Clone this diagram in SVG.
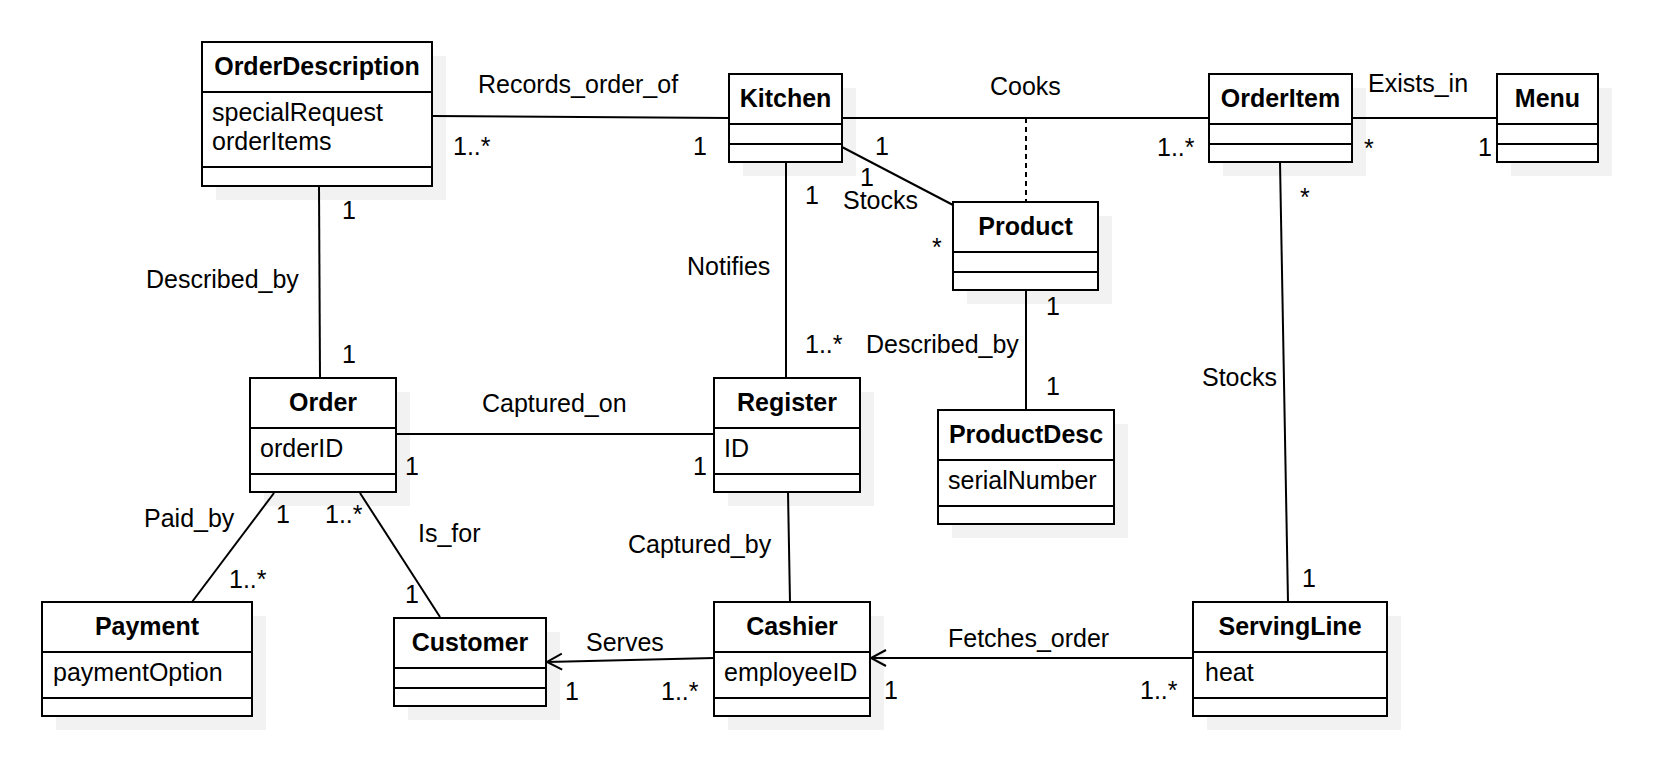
<svg xmlns="http://www.w3.org/2000/svg" width="1656" height="774" viewBox="0 0 1656 774">
<defs>
<style>
.bg{fill:#ffffff}
.sh{fill:#f2f2f2;stroke:none}
.box{fill:#ffffff;stroke:#000000;stroke-width:2}
.dv{stroke:#000000;stroke-width:2}
.ttl{font-family:"Liberation Sans",Arial,sans-serif;font-size:25px;font-weight:bold;fill:#000;text-anchor:middle}
.att{font-family:"Liberation Sans",Arial,sans-serif;font-size:25px;fill:#000}
.lbl{font-family:"Liberation Sans",Arial,sans-serif;font-size:25px;fill:#000}
.ln{fill:none;stroke:#000000;stroke-width:2}
.dash{fill:none;stroke:#000000;stroke-width:2;stroke-dasharray:5 4}
</style>
<marker id="open" markerUnits="userSpaceOnUse" viewBox="0 0 20 20" markerWidth="20" markerHeight="20" refX="17" refY="10" orient="auto">
<path d="M2,2 L17,10 L2,18" fill="none" stroke="#000" stroke-width="2"/>
</marker>
</defs>
<rect class="bg" x="0" y="0" width="1656" height="774"/>

<g id="OrderDescription">
<rect class="sh" x="216" y="56" width="230" height="144"/>
<rect class="box" x="202" y="42" width="230" height="144"/>
<line class="dv" x1="202" y1="92" x2="432" y2="92"/>
<line class="dv" x1="202" y1="167" x2="432" y2="167"/>
<text class="ttl" x="317" y="75">OrderDescription</text>
<text class="att" x="212" y="121">specialRequest</text>
<text class="att" x="212" y="150">orderItems</text>
</g>

<g id="Kitchen">
<rect class="sh" x="743" y="88" width="113" height="88"/>
<rect class="box" x="729" y="74" width="113" height="88"/>
<line class="dv" x1="729" y1="124" x2="842" y2="124"/>
<line class="dv" x1="729" y1="144" x2="842" y2="144"/>
<text class="ttl" x="785.5" y="107">Kitchen</text>
</g>

<g id="OrderItem">
<rect class="sh" x="1223" y="88" width="143" height="88"/>
<rect class="box" x="1209" y="74" width="143" height="88"/>
<line class="dv" x1="1209" y1="124" x2="1352" y2="124"/>
<line class="dv" x1="1209" y1="144" x2="1352" y2="144"/>
<text class="ttl" x="1280.5" y="107">OrderItem</text>
</g>

<g id="Menu">
<rect class="sh" x="1511" y="88" width="101" height="88"/>
<rect class="box" x="1497" y="74" width="101" height="88"/>
<line class="dv" x1="1497" y1="124" x2="1598" y2="124"/>
<line class="dv" x1="1497" y1="144" x2="1598" y2="144"/>
<text class="ttl" x="1547.5" y="107">Menu</text>
</g>

<g id="Product">
<rect class="sh" x="967" y="216" width="145" height="88"/>
<rect class="box" x="953" y="202" width="145" height="88"/>
<line class="dv" x1="953" y1="252" x2="1098" y2="252"/>
<line class="dv" x1="953" y1="272" x2="1098" y2="272"/>
<text class="ttl" x="1025.5" y="235">Product</text>
</g>

<g id="Order">
<rect class="sh" x="264" y="392" width="146" height="114"/>
<rect class="box" x="250" y="378" width="146" height="114"/>
<line class="dv" x1="250" y1="428" x2="396" y2="428"/>
<line class="dv" x1="250" y1="474" x2="396" y2="474"/>
<text class="ttl" x="323" y="411">Order</text>
<text class="att" x="260" y="457">orderID</text>
</g>

<g id="Register">
<rect class="sh" x="728" y="392" width="146" height="114"/>
<rect class="box" x="714" y="378" width="146" height="114"/>
<line class="dv" x1="714" y1="428" x2="860" y2="428"/>
<line class="dv" x1="714" y1="474" x2="860" y2="474"/>
<text class="ttl" x="787" y="411">Register</text>
<text class="att" x="724" y="457">ID</text>
</g>

<g id="ProductDesc">
<rect class="sh" x="952" y="424" width="176" height="114"/>
<rect class="box" x="938" y="410" width="176" height="114"/>
<line class="dv" x1="938" y1="460" x2="1114" y2="460"/>
<line class="dv" x1="938" y1="506" x2="1114" y2="506"/>
<text class="ttl" x="1026" y="443">ProductDesc</text>
<text class="att" x="948" y="489">serialNumber</text>
</g>

<g id="Payment">
<rect class="sh" x="56" y="616" width="210" height="114"/>
<rect class="box" x="42" y="602" width="210" height="114"/>
<line class="dv" x1="42" y1="652" x2="252" y2="652"/>
<line class="dv" x1="42" y1="698" x2="252" y2="698"/>
<text class="ttl" x="147" y="635">Payment</text>
<text class="att" x="53" y="681">paymentOption</text>
</g>

<g id="Customer">
<rect class="sh" x="408" y="632" width="152" height="88"/>
<rect class="box" x="394" y="618" width="152" height="88"/>
<line class="dv" x1="394" y1="668" x2="546" y2="668"/>
<line class="dv" x1="394" y1="688" x2="546" y2="688"/>
<text class="ttl" x="470" y="651">Customer</text>
</g>

<g id="Cashier">
<rect class="sh" x="728" y="616" width="156" height="114"/>
<rect class="box" x="714" y="602" width="156" height="114"/>
<line class="dv" x1="714" y1="652" x2="870" y2="652"/>
<line class="dv" x1="714" y1="698" x2="870" y2="698"/>
<text class="ttl" x="792" y="635">Cashier</text>
<text class="att" x="724" y="681">employeeID</text>
</g>

<g id="ServingLine">
<rect class="sh" x="1207" y="616" width="194" height="114"/>
<rect class="box" x="1193" y="602" width="194" height="114"/>
<line class="dv" x1="1193" y1="652" x2="1387" y2="652"/>
<line class="dv" x1="1193" y1="698" x2="1387" y2="698"/>
<text class="ttl" x="1290" y="635">ServingLine</text>
<text class="att" x="1205" y="681">heat</text>
</g>

<g id="connectors">
<line class="ln" x1="433" y1="116" x2="729" y2="118"/>
<line class="ln" x1="842" y1="118" x2="1209" y2="118"/>
<line class="dash" x1="1026" y1="118" x2="1026" y2="202"/>
<line class="ln" x1="1352" y1="118" x2="1497" y2="118"/>
<line class="ln" x1="842" y1="147" x2="953" y2="205"/>
<line class="ln" x1="786" y1="162" x2="786" y2="378"/>
<line class="ln" x1="1026" y1="290" x2="1026" y2="410"/>
<line class="ln" x1="1280" y1="162" x2="1288" y2="602"/>
<line class="ln" x1="319" y1="186" x2="320" y2="378"/>
<line class="ln" x1="396" y1="434" x2="714" y2="434"/>
<line class="ln" x1="788" y1="492" x2="790" y2="602"/>
<line class="ln" x1="274" y1="493" x2="192" y2="602"/>
<line class="ln" x1="360" y1="493" x2="440" y2="617"/>
<line class="ln" x1="714" y1="658" x2="547" y2="662" marker-end="url(#open)"/>
<line class="ln" x1="1193" y1="658" x2="871" y2="658" marker-end="url(#open)"/>
</g>

<g id="connector-labels">
<text class="lbl" x="478" y="93">Records_order_of</text>
<text class="lbl" x="453" y="155">1..*</text>
<text class="lbl" x="693" y="155">1</text>
<text class="lbl" x="990" y="95">Cooks</text>
<text class="lbl" x="875" y="155">1</text>
<text class="lbl" x="1157" y="156">1..*</text>
<text class="lbl" x="1368" y="92">Exists_in</text>
<text class="lbl" x="1364" y="157">*</text>
<text class="lbl" x="1478" y="156">1</text>
<text class="lbl" x="860" y="186">1</text>
<text class="lbl" x="843" y="209">Stocks</text>
<text class="lbl" x="805" y="204">1</text>
<text class="lbl" x="932" y="256">*</text>
<text class="lbl" x="687" y="275">Notifies</text>
<text class="lbl" x="805" y="353">1..*</text>
<text class="lbl" x="866" y="353">Described_by</text>
<text class="lbl" x="1046" y="315">1</text>
<text class="lbl" x="1046" y="395">1</text>
<text class="lbl" x="1300" y="206">*</text>
<text class="lbl" x="1202" y="386">Stocks</text>
<text class="lbl" x="1302" y="587">1</text>
<text class="lbl" x="146" y="288">Described_by</text>
<text class="lbl" x="342" y="219">1</text>
<text class="lbl" x="342" y="363">1</text>
<text class="lbl" x="482" y="412">Captured_on</text>
<text class="lbl" x="405" y="475">1</text>
<text class="lbl" x="693" y="475">1</text>
<text class="lbl" x="144" y="527">Paid_by</text>
<text class="lbl" x="276" y="523">1</text>
<text class="lbl" x="325" y="523">1..*</text>
<text class="lbl" x="418" y="542">Is_for</text>
<text class="lbl" x="229" y="588">1..*</text>
<text class="lbl" x="405" y="603">1</text>
<text class="lbl" x="628" y="553">Captured_by</text>
<text class="lbl" x="586" y="651">Serves</text>
<text class="lbl" x="565" y="700">1</text>
<text class="lbl" x="661" y="700">1..*</text>
<text class="lbl" x="948" y="647">Fetches_order</text>
<text class="lbl" x="884" y="699">1</text>
<text class="lbl" x="1140" y="699">1..*</text>
</g>
</svg>
